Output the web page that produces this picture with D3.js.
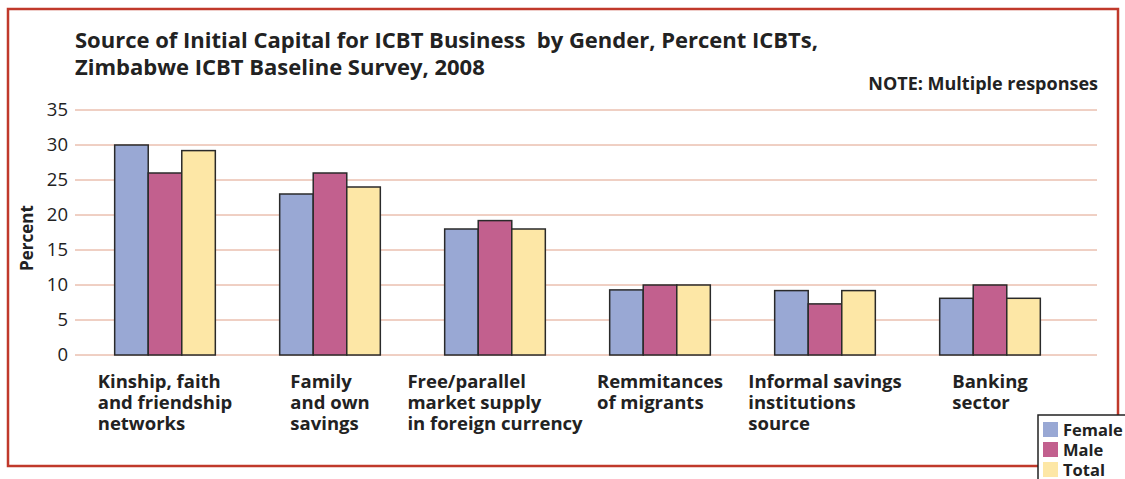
<!DOCTYPE html>
<html>
<head>
<meta charset="utf-8">
<script src="https://cdn.jsdelivr.net/npm/d3@7"></script>
<style>
  body { margin: 0; background: #fff; }
  svg { display: block; font-family: 'Open Sans', sans-serif; }
</style>
</head>
<body>
<div id="chart"></div>
<script>
const categories = [
  ['Kinship, faith', 'and friendship', 'networks'],
  ['Family', 'and own', 'savings'],
  ['Free/parallel', 'market supply', 'in foreign currency'],
  ['Remmitances', 'of migrants'],
  ['Informal savings', 'institutions', 'source'],
  ['Banking', 'sector']
];
const seriesNames = ['Female', 'Male', 'Total'];
const female = [30, 23, 18, 9.3, 9.2, 8.1];
const male = [26, 26, 19.2, 10, 7.3, 10];
const total = [29.2, 24, 18, 10, 9.2, 8.1];
const yTicks = [0, 5, 10, 15, 20, 25, 30, 35];

const COLORS = { Female: '#99a8d4', Male: '#c2608e', Total: '#fde7a6' };

const W = 1125, H = 479;
const svg = d3.select('#chart').append('svg')
  .attr('width', W).attr('height', H)
  .attr('viewBox', `0 0 ${W} ${H}`);

// outer frame
svg.append('rect')
  .attr('x', 8).attr('y', 9).attr('width', 1110).attr('height', 457)
  .attr('fill', 'none').attr('stroke', '#c0392b').attr('stroke-width', 2.5);

const rows = categories.map((c, i) => ({
  idx: i, label: c,
  values: [female[i], male[i], total[i]]
}));

const x = d3.scaleBand().domain(d3.range(categories.length)).range([82.5, 1072.5]).paddingInner(0.39).paddingOuter(0.195);
const xs = d3.scaleBand().domain(seriesNames).range([0, x.bandwidth()]);
const y = d3.scaleLinear().domain([0, 35]).range([355, 110]);

// gridlines
svg.append('g')
  .selectAll('line')
  .data(yTicks)
  .join('line')
  .attr('x1', 75).attr('x2', 1097)
  .attr('y1', (d) => y(d)).attr('y2', (d) => y(d))
  .attr('stroke', '#e0a088').attr('stroke-width', 1);

// y axis labels
const yAxis = svg.append('g')
  .attr('transform', 'translate(68,0)')
  .call(d3.axisLeft(y).tickValues(yTicks).tickSize(0).tickPadding(0));
yAxis.select('.domain').remove();
yAxis.selectAll('text')
  .attr('font-size', '18.5px')
  .attr('font-family', "'Open Sans', sans-serif")
  .attr('fill', '#222');

svg.append('text')
  .attr('transform', 'translate(33,238) rotate(-90)')
  .attr('text-anchor', 'middle')
  .attr('font-size', '17px').attr('font-weight', 'bold')
  .attr('fill', '#222')
  .text('Percent');

// bars
const grp = svg.append('g')
  .selectAll('g')
  .data(rows)
  .join('g')
  .attr('transform', (d) => `translate(${x(d.idx)},0)`);

grp.selectAll('rect')
  .data((d) => d.values.map((v, j) => ({ key: seriesNames[j], v })))
  .join('rect')
  .attr('x', (d) => xs(d.key))
  .attr('y', (d) => y(d.v))
  .attr('width', xs.bandwidth())
  .attr('height', (d) => y(0) - y(d.v))
  .attr('fill', (d) => COLORS[d.key])
  .attr('stroke', '#2a2a2a').attr('stroke-width', 1.5);

// category labels: left-aligned block centred under the group
const labels = svg.append('g')
  .selectAll('text')
  .data(rows)
  .join('text')
  .attr('font-size', '18.5px').attr('font-weight', 'bold')
  .attr('fill', '#222');

labels.each(function (d) {
  const t = d3.select(this);
  d.label.forEach((line, k) => {
    t.append('tspan').attr('dy', k === 0 ? 0 : 21).text(line);
  });
  let maxW = 0;
  t.selectAll('tspan').each(function () { maxW = Math.max(maxW, this.getComputedTextLength()); });
  const left = x(d.idx) + x.bandwidth() / 2 - maxW / 2;
  t.attr('x', left).attr('y', 388);
  t.selectAll('tspan').attr('x', left);
});

// title
const title = svg.append('text')
  .attr('x', 75).attr('y', 48)
  .attr('font-size', '22px').attr('font-weight', 'bold')
  .attr('fill', '#222');
title.append('tspan').attr('x', 75).text('Source of Initial Capital for ICBT Business\u00a0 by Gender, Percent ICBTs,');
title.append('tspan').attr('x', 75).attr('dy', 27).text('Zimbabwe ICBT Baseline Survey, 2008');

svg.append('text')
  .attr('x', 1098).attr('y', 90)
  .attr('text-anchor', 'end')
  .attr('font-size', '18px').attr('font-weight', 'bold')
  .attr('fill', '#222')
  .text('NOTE: Multiple responses');

// legend
const legend = svg.append('g').attr('transform', 'translate(1038,415)');
legend.append('rect')
  .attr('x', 0).attr('y', 0).attr('width', 100).attr('height', 80)
  .attr('fill', '#fff').attr('stroke', '#222').attr('stroke-width', 1.5);
const item = legend.selectAll('g.item')
  .data(seriesNames)
  .join('g')
  .attr('class', 'item')
  .attr('transform', (d, i) => `translate(5,${7 + i * 20})`);
item.append('rect')
  .attr('width', 15).attr('height', 15)
  .attr('fill', (d) => COLORS[d]);
item.append('text')
  .attr('x', 20).attr('y', 14)
  .attr('font-size', '16.5px').attr('font-weight', 'bold')
  .attr('fill', '#222')
  .text((d) => d);
</script>
</body>
</html>
